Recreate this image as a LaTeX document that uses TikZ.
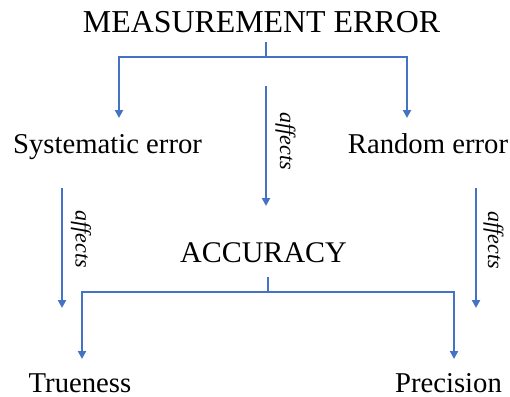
\documentclass[tikz,border=0pt]{standalone}
\usepackage{fontspec}
\setmainfont{Liberation Serif}
\usetikzlibrary{arrows.meta}
\definecolor{lineblue}{RGB}{68,114,196}
\begin{document}
\begin{tikzpicture}[x=1pt,y=-1pt,
  titletext/.style={inner sep=0pt,anchor=base,font=\fontsize{31.9}{36}\selectfont},
  acctext/.style={inner sep=0pt,anchor=base,font=\fontsize{30}{34}\selectfont},
  itemtext/.style={inner sep=0pt,anchor=base,font=\fontsize{28.7}{33}\selectfont},
  afflabel/.style={inner sep=0pt,anchor=base,rotate=-90,font=\fontsize{22}{26}\selectfont\itshape},
  conn/.style={draw=lineblue,line width=2pt},
  arr/.style={conn,-{Triangle[width=8pt,length=8pt]}}]
\useasboundingbox (0,0) rectangle (510,396);

% texts
\node[titletext] (me) at (261.5,33) {MEASUREMENT ERROR};
\node[itemtext] (se) at (107.5,153) {Systematic error};
\node[itemtext] (re) at (428,153) {Random error};
\node[acctext] (acc) at (263.5,262) {ACCURACY};
\node[itemtext] (tr) at (80,392) {Trueness};
\node[itemtext] (pr) at (448.5,392) {Precision};

% connector points
\coordinate (meout) at (266,42);
\coordinate (mej) at (266,57);
\coordinate (sein) at (119,118);
\coordinate (rein) at (407,118);
\coordinate (accout) at (268,277);
\coordinate (accj) at (268,292);
\coordinate (trin) at (82,359);
\coordinate (prin) at (454,359);

\coordinate (c1s) at (266,86);
\coordinate (c1e) at (266,206);
\coordinate (c2s) at (62,188);
\coordinate (c2e) at (62,308);
\coordinate (c3s) at (476,188);
\coordinate (c3e) at (476,308);

% upper tree
\draw[conn] (meout) -- (mej);
\draw[arr] (mej) -| (sein);
\draw[arr] (mej) -| (rein);

% lower tree
\draw[conn] (accout) -- (accj);
\draw[arr] (accj) -| (trin);
\draw[arr] (accj) -| (prin);

% affects arrows
\draw[arr] (c1s) -- (c1e);
\draw[arr] (c2s) -- (c2e);
\draw[arr] (c3s) -- (c3e);

\node[afflabel] (a1) at (280,141) {affects};
\node[afflabel] (a2) at (75.5,239) {affects};
\node[afflabel] (a3) at (488,240) {affects};
\end{tikzpicture}
\end{document}
